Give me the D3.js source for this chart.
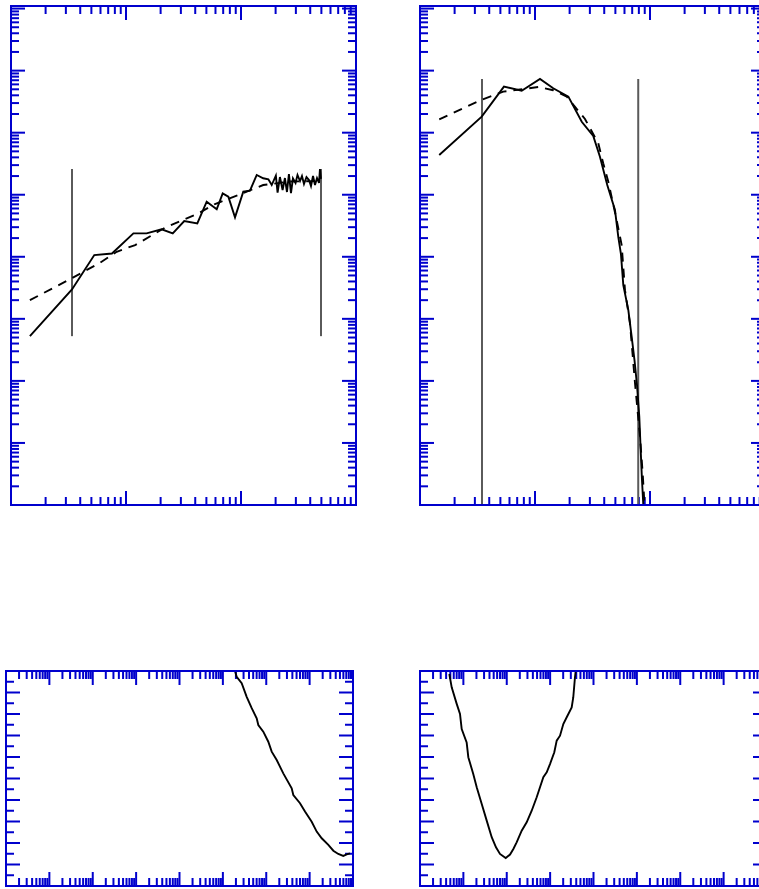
<!DOCTYPE html>
<html>
<head>
<meta charset="utf-8">
<script src="https://cdn.jsdelivr.net/npm/d3@7"></script>
<style>
  body { margin: 0; background: #fff; }
</style>
</head>
<body>
<svg id="chart"></svg>
<script>
// ---- panel A (top left): observed spectrum, model, fit range
const aObsX = [1.46, 3.39, 5.30, 7.55, 11.6, 15.1, 20.4, 25.5, 32.1, 41.7, 50.3, 61.5, 69.3, 77.6, 88.7,
  104.7, 119.7, 137, 156, 173, 185, 201, 208,
  218, 230, 241, 251, 261, 272, 283, 298, 310, 326, 339, 353, 371, 390, 406, 423, 440, 458, 477, 486, 496];
const aObsY = [526, 2980, 10650, 11270, 23850, 23850, 27670, 23850, 37650, 34580, 77100, 58200, 105400, 92900, 43200,
  111800, 116100, 208000, 184000, 177000, 143300, 202500, 107700,
  192800, 119100, 185800, 110600, 215800, 106400, 183000, 154700, 208000, 166300, 200400, 148900, 192800, 172600,
  138000, 200400, 143300, 185800, 154700, 260000, 180000];
const aFitX = [1.46, 3.15, 5.94, 8.30, 12.0, 21.8, 42.5, 59.4, 112, 156, 267, 486];
const aFitY = [2000, 4210, 8000, 12040, 15450, 29370, 50100, 70800, 111800, 143300, 163300, 166300];
const aMarkX = [3.39, 496];

// ---- panel B (top right)
const bObsX = [1.47, 3.44, 5.37, 7.66, 11.05, 14.4, 19.5, 25.5, 32.1, 36.7, 42.5, 49.6, 53.0, 55.9, 58.6,
  64.8, 69.0, 73.3, 77.1, 80.7, 83.0, 85.2, 87.5, 89.6];
const bObsY = [436500, 1.81e6, 5.52e6, 4.75e6, 7.35e6, 5.20e6, 3.81e6, 1.50e6, 885000, 410000, 143300, 56600,
  21000, 11060, 3500, 1380, 546, 216, 85, 26.3, 7.6, 2.5, 0.99, 0.57];
const bFitX = [1.47, 3.32, 5.30, 7.41, 10.7, 14.4, 18.9, 22.3, 27.2, 35.5, 39.2, 43.4, 51.3, 56.7, 60.6,
  67.0, 74.1, 81.9, 86.4, 89.6, 92.3];
const bFitY = [1.64e6, 3.31e6, 4.58e6, 4.97e6, 5.46e6, 4.83e6, 3.81e6, 2.60e6, 1.66e6, 675000, 321000, 162000,
  39000, 15450, 2900, 843, 90.8, 12.5, 3.2, 1.0, 0.39];
const bMarkX = [3.46, 79.0];

// ---- panel C (bottom left)
const cX = [190500, 208000, 271500, 354000, 462000, 602000, 656000, 855000, 1.115e6, 1.335e6, 1.742e6, 2.47e6,
  3.86e6, 4.21e6, 6.00e6, 7.82e6, 1.116e7, 1.456e7, 1.90e7, 2.70e7, 3.52e7, 4.58e7, 5.97e7, 7.16e7, 8.53e7];
const cY = [10.0, 9.73, 9.43, 8.80, 8.27, 7.80, 7.49, 7.18, 6.71, 6.25, 5.86, 5.24, 4.54, 4.23, 3.85, 3.46,
  2.99, 2.53, 2.22, 1.91, 1.64, 1.49, 1.40, 1.47, 1.52];

// ---- panel D (bottom right)
const dX = [4.74, 5.38, 7.02, 8.36, 9.15, 11.9, 13.0, 16.9, 20.3, 26.5, 34.5, 45.0, 56.5, 69.8, 94.6,
  119, 142, 169, 221, 288, 376, 490, 584, 697, 834, 993, 1248, 1418, 1690, 2014, 2412, 3141, 3420, 3741, 3890];
const dY = [9.86, 9.24, 8.47, 8.00, 7.30, 6.68, 5.99, 5.21, 4.59, 3.81, 3.04, 2.27, 1.80, 1.49, 1.30,
  1.46, 1.72, 2.03, 2.57, 2.96, 3.50, 4.13, 4.59, 5.06, 5.29, 5.67, 6.22, 6.76, 6.99, 7.53, 7.85, 8.31, 8.78, 9.71, 10.0];

const AXIS = '#0000cd';
const svg = d3.select('#chart').attr('width', 759).attr('height', 889);

const isDecade = (t) => Math.abs(Math.log10(t) - Math.round(Math.log10(t))) < 1e-9;
let clipCount = 0;

// frame + inward ticks on all four sides, no labels
function panel(xs, ys, yTicks, yMajor) {
  const g = svg.append('g');
  const [x0, x1] = xs.range(), [yb, yt] = ys.range();
  const id = 'clip' + (clipCount++);
  g.append('clipPath').attr('id', id).append('rect')
    .attr('x', x0).attr('y', yt).attr('width', x1 - x0).attr('height', yb - yt);

  const ticks = g.append('g').attr('stroke', AXIS).attr('stroke-width', 2);
  xs.ticks().forEach(t => {
    const len = isDecade(t) ? 14 : 8, x = xs(t);
    ticks.append('line').attr('x1', x).attr('x2', x).attr('y1', yt).attr('y2', yt + len);
    ticks.append('line').attr('x1', x).attr('x2', x).attr('y1', yb).attr('y2', yb - len);
  });
  yTicks.forEach(t => {
    const len = yMajor(t) ? 14 : 8, y = ys(t);
    ticks.append('line').attr('x1', x0).attr('x2', x0 + len).attr('y1', y).attr('y2', y);
    ticks.append('line').attr('x1', x1).attr('x2', x1 - len).attr('y1', y).attr('y2', y);
  });

  const plot = g.append('g').attr('clip-path', 'url(#' + id + ')');
  g.append('rect')
    .attr('x', x0).attr('y', yt).attr('width', x1 - x0).attr('height', yb - yt)
    .attr('fill', 'none').attr('stroke', AXIS).attr('stroke-width', 2);
  return plot;
}

function curve(plot, xs, ys, X, Y, dashed) {
  const line = d3.line().x(d => xs(d[0])).y(d => ys(d[1]));
  plot.append('path')
    .datum(d3.zip(X, Y))
    .attr('d', line)
    .attr('fill', 'none')
    .attr('stroke', '#000')
    .attr('stroke-width', 1.9)
    .attr('stroke-dasharray', dashed ? '9,7' : null);
}

function markers(plot, xs, ys, X, Yrange) {
  const [lo, hi] = Yrange;
  X.forEach(v => {
    plot.append('line')
      .attr('x1', xs(v)).attr('x2', xs(v))
      .attr('y1', ys(hi)).attr('y2', ys(lo))
      .attr('stroke', '#5a5a5a').attr('stroke-width', 2);
  });
}

// top panels: log-log
const yTop = d3.scaleLog().domain([1, 1.1e8]).range([505, 6]);
const yTopTicks = yTop.ticks();

const xA = d3.scaleLog().domain([1, 1000]).range([11, 356]);
const pA = panel(xA, yTop, yTopTicks, isDecade);
markers(pA, xA, yTop, aMarkX, d3.extent(aObsY));
curve(pA, xA, yTop, aFitX, aFitY, true);
curve(pA, xA, yTop, aObsX, aObsY, false);

const xB = d3.scaleLog().domain([1, 1000]).range([420, 765]);
const pB = panel(xB, yTop, yTopTicks, isDecade);
markers(pB, xB, yTop, bMarkX, d3.extent(bObsY));
curve(pB, xB, yTop, bFitX, bFitY, true);
curve(pB, xB, yTop, bObsX, bObsY, false);

// bottom panels: log x, linear y
const yBot = d3.scaleLinear().domain([0, 10]).range([886, 671]);
const yBotTicks = d3.range(0, 10.01, 0.5);
const isWhole = (t) => Math.abs(t - Math.round(t)) < 1e-9;

const xC = d3.scaleLog().domain([1, 1e8]).range([6, 353]);
const pC = panel(xC, yBot, yBotTicks, isWhole);
curve(pC, xC, yBot, cX, cY, false);

const xD = d3.scaleLog().domain([1, 1e8]).range([420, 767]);
const pD = panel(xD, yBot, yBotTicks, isWhole);
curve(pD, xD, yBot, dX, dY, false);
</script>
</body>
</html>
